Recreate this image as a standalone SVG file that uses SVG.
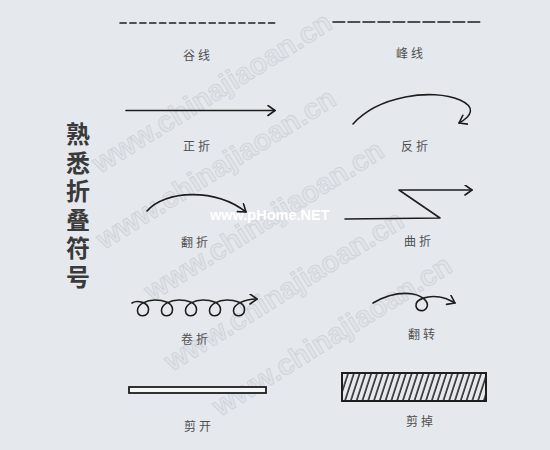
<svg xmlns="http://www.w3.org/2000/svg" width="550" height="450" viewBox="0 0 550 450">
<style>
.ln{fill:none;stroke:#1e1e1e;stroke-width:1.6;stroke-linecap:round;stroke-linejoin:round}
.lbl{font-family:"Noto Sans CJK SC","Noto Sans CJK JP",sans-serif;font-size:12px;fill:#505050;text-anchor:middle;letter-spacing:3px}
.ttl{font-family:"Noto Sans CJK SC","Noto Sans CJK JP",sans-serif;font-size:24px;font-weight:bold;fill:#3a3a3a;writing-mode:vertical-rl;letter-spacing:4.5px}
.wm{font-family:"Liberation Sans",Arial,sans-serif;font-size:29px;font-weight:bold;fill:#e0e3e8;stroke:#cbd0d7;stroke-width:0.7}
.ph{font-family:"Liberation Sans",Arial,sans-serif;font-size:14.5px;font-weight:bold;fill:#ffffff}
</style>
<defs>
<marker id="ah" markerWidth="10" markerHeight="12" refX="8" refY="5.5" orient="auto" markerUnits="userSpaceOnUse">
<path d="M1,0.5 L8,5.5 L1,10.5" fill="none" stroke="#1e1e1e" stroke-width="1.6" stroke-linejoin="round" stroke-linecap="round"/>
</marker>
<pattern id="hatch" width="5.5" height="10" patternUnits="userSpaceOnUse" patternTransform="rotate(18)">
<line x1="1" y1="0" x2="1" y2="10" stroke="#1e1e1e" stroke-width="1.5"/>
</pattern>
</defs>
<rect x="0" y="0" width="550" height="450" fill="#e5e8ed"/>
<g id="watermarks">
<text class="wm" x="100" y="174" transform="rotate(-32 100 174)">www.chinajiaoan.cn</text>
<text class="wm" x="104" y="250" transform="rotate(-32 104 250)">www.chinajiaoan.cn</text>
<text class="wm" x="152" y="302" transform="rotate(-32 152 302)">www.chinajiaoan.cn</text>
<text class="wm" x="172" y="372" transform="rotate(-32 172 372)">www.chinajiaoan.cn</text>
<text class="wm" x="220" y="417" transform="rotate(-32 220 417)">www.chinajiaoan.cn</text>
<text class="ph" x="210" y="220">www.pHome.NET</text>
</g>
<g id="title">
<text class="ttl" x="78" y="122">熟悉折叠符号</text>
</g>
<g id="connectors">
<line class="ln" x1="120" y1="23" x2="277" y2="23" stroke-dasharray="6.2 3.7" stroke-linecap="butt" stroke-width="1.5"/>
<line class="ln" x1="333" y1="22" x2="480" y2="22" stroke-dasharray="11.7 3.3" stroke-linecap="butt" stroke-width="2"/>
<line class="ln" x1="126" y1="110.5" x2="275" y2="110.5" marker-end="url(#ah)"/>
<path class="ln" d="M353,124 C378,96 432,88 460,100 C476,107 472,116 459,123" marker-end="url(#ah)"/>
<path class="ln" d="M147,211 C165,190 215,188 246,212" marker-end="url(#ah)"/>
<path class="ln" d="M345,219 L440,218 L399,190 L472,190" marker-end="url(#ah)"/>
<path class="ln" d="M132,303 C137,300 149,302 148.5,310 C148,317 138,318 137.5,311 C137,304 147,300 155,300 C162,300 173,302 172.5,310 C172,317 162,318 161.5,311 C161,304 171,300 179,300 C186,300 197,302 196.5,310 C196,317 186,318 185.5,311 C185,304 195,300 203,300 C210,300 221,302 220.5,310 C220,317 210,318 209.5,311 C209,304 219,300 227,300 C234,300 245,302 244.5,310 C244,317 234,318 233.5,311 C233,304 245,299 257,299" marker-end="url(#ah)"/>
<path class="ln" d="M373,303 C385,296 400,292 413,294 C423,296 429,302 427,307 C425,312 417,312 416,306 C415,299 428,295 440,297 C447,298 450,300.5 455,303" marker-end="url(#ah)"/>
</g>
<g id="valley"><text class="lbl" x="198" y="60">谷线</text></g>
<g id="mountain"><text class="lbl" x="411" y="58">峰线</text></g>
<g id="fold-front"><text class="lbl" x="198" y="151">正折</text></g>
<g id="fold-back"><text class="lbl" x="416" y="151">反折</text></g>
<g id="fold-over"><text class="lbl" x="196" y="247">翻折</text></g>
<g id="pleat"><text class="lbl" x="419" y="246">曲折</text></g>
<g id="roll"><text class="lbl" x="196" y="344">卷折</text></g>
<g id="turn-over"><text class="lbl" x="423" y="339">翻转</text></g>
<g id="cut">
<rect x="129" y="387" width="137" height="6" fill="#f4f5f7" stroke="#1e1e1e" stroke-width="1.8"/>
<text class="lbl" x="199" y="431">剪开</text>
</g>
<g id="cut-away">
<rect x="342" y="373" width="144" height="28" fill="url(#hatch)" stroke="#1e1e1e" stroke-width="2"/>
<text class="lbl" x="421" y="426">剪掉</text>
</g>
</svg>
